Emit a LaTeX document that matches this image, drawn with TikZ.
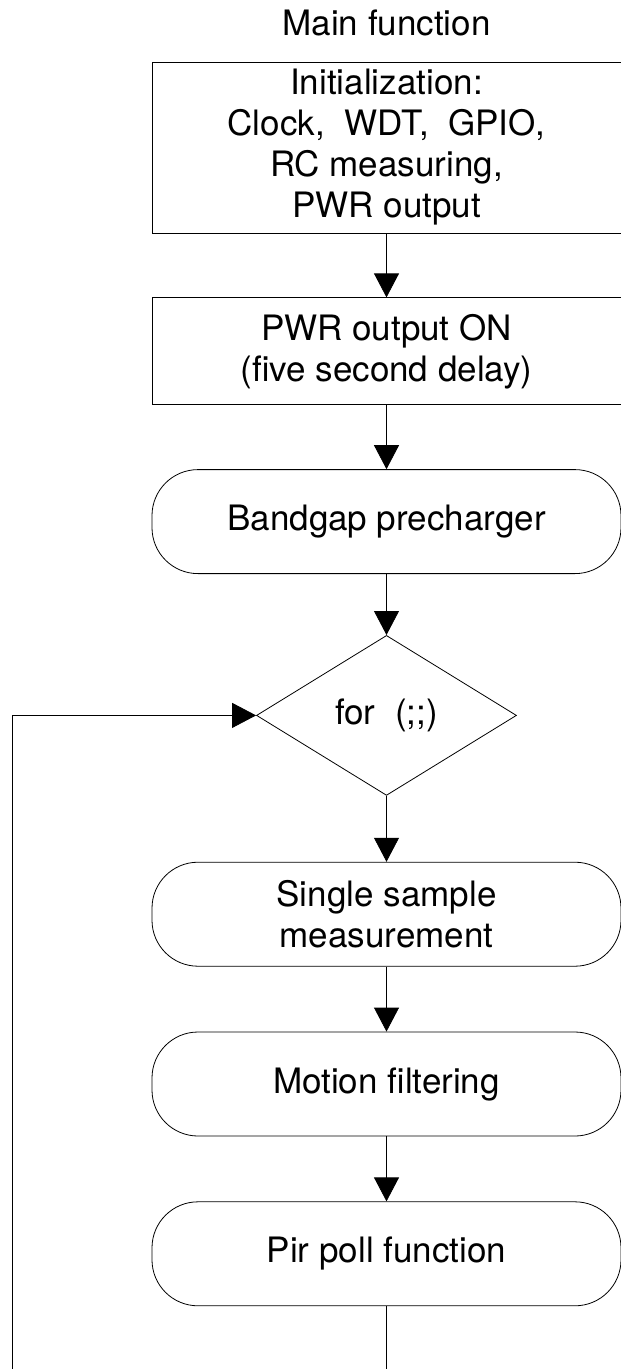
\documentclass[tikz,border=0pt]{standalone}
\usepackage{fontspec}
\setmainfont{TeX Gyre Heros}
\usetikzlibrary{positioning,shapes.geometric,arrows.meta}

\tikzset{
  blk/.style={draw, rectangle, minimum width=469pt, inner sep=0pt, align=center,
    font=\fontsize{35}{41}\selectfont},
  term/.style={blk, rounded corners=46pt, minimum height=104pt},
  cond/.style={draw, diamond, aspect=1.625, minimum width=260pt, minimum height=160pt,
    inner sep=0pt, font=\fontsize{35}{41}\selectfont}
}

\begin{document}
\begin{tikzpicture}[x=1pt,y=1pt,->,>={Triangle[width=25pt,length=24pt]},line width=0.8pt]
\useasboundingbox (0,0) rectangle (621,-1369);

\node [anchor=base, font=\fontsize{35}{41}\selectfont, inner sep=0pt] (title) at (386.5,-35) {Main function};
\node [blk, minimum height=171pt] (init) at (386.5,-147.5) {Initialization:\\Clock,\ \ WDT,\ \ GPIO,\\RC measuring,\\PWR output};
\node [blk, minimum height=107pt, below = 64pt of init] (pwr) {PWR output ON\\(five second delay)};
\node [term, below = 64pt of pwr] (band) {Bandgap precharger};
\node [cond, below = 61pt of band] (loop) {for\ \ (;;)};
\node [term, below = 66pt of loop] (meas) {Single sample\\measurement};
\node [term, below = 65pt of meas] (filt) {Motion filtering};
\node [term, below = 65pt of filt] (pir) {Pir poll function};

\coordinate (pend) at (386.5,-1369);
\coordinate (lstart) at (12,-1369);

\path (init) edge (pwr);
\path (pwr) edge (band);
\path (band) edge (loop);
\path (loop) edge (meas);
\path (meas) edge (filt);
\path (filt) edge (pir);

%back to loop
\draw [-] (pir) -- (pend);
\draw (lstart) |- (loop.west);
\end{tikzpicture}
\end{document}
